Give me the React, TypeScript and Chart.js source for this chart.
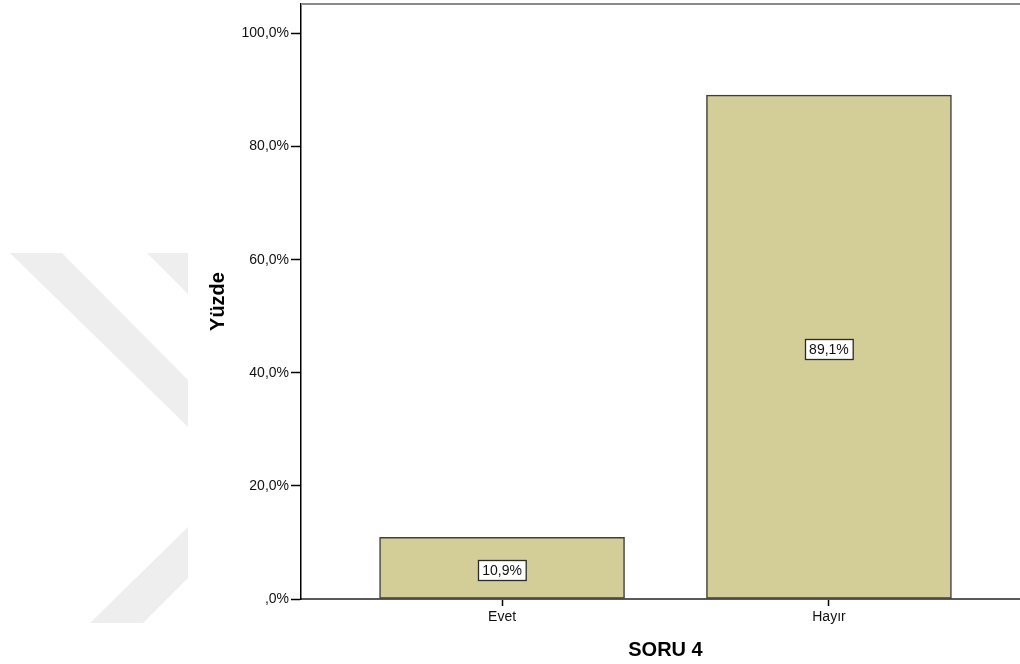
import React, { useEffect, useRef } from "react";
import { Chart, registerables } from "chart.js";

Chart.register(...registerables);

const categories: string[] = ["Evet", "Hayır"];
const percentages: number[] = [10.9, 89.1];
const yTicks: number[] = [0, 20, 40, 60, 80, 100];
const xTitle = "SORU 4";
const yTitle = "Yüzde";

const FONT = "'Liberation Sans', Arial, sans-serif";

const fmtPct = (v: number): string => {
  const s = v.toFixed(1).replace(".", ",");
  return (s.startsWith("0,") ? s.slice(1) : s) + "%";
};

const watermarkPlugin = {
  id: "watermark",
  beforeDraw(chart: any) {
    const ctx = chart.ctx as CanvasRenderingContext2D;
    ctx.save();
    ctx.fillStyle = "#eeeeee";
    const polys: number[][][] = [
      [[10, 253], [62, 253], [188, 380], [188, 427]],
      [[147, 253], [188, 253], [188, 294]],
      [[90, 623], [143, 623], [188, 578], [188, 527]],
    ];
    for (const p of polys) {
      ctx.beginPath();
      ctx.moveTo(p[0][0], p[0][1]);
      for (let i = 1; i < p.length; i++) ctx.lineTo(p[i][0], p[i][1]);
      ctx.closePath();
      ctx.fill();
    }
    ctx.restore();
  },
};

const frameAndLabelsPlugin = {
  id: "frameAndLabels",
  afterDatasetsDraw(chart: any) {
    const ctx = chart.ctx as CanvasRenderingContext2D;
    const area = chart.chartArea;
    ctx.save();
    // top frame line
    ctx.strokeStyle = "#8a8a8a";
    ctx.lineWidth = 2;
    ctx.beginPath();
    ctx.moveTo(area.left, area.top);
    ctx.lineTo(area.right, area.top);
    ctx.stroke();

    // value labels
    const meta = chart.getDatasetMeta(0);
    ctx.font = `14px ${FONT}`;
    ctx.textAlign = "center";
    ctx.textBaseline = "middle";
    meta.data.forEach((el: any, i: number) => {
      const text = fmtPct(percentages[i]);
      const w = ctx.measureText(text).width + 8;
      const h = 20;
      const cx = el.x;
      const cy = (el.y + el.base) / 2 + 2;
      const x0 = Math.round(cx - w / 2) + 0.5;
      const y0 = Math.round(cy - h / 2) + 0.5;
      ctx.fillStyle = "#ffffff";
      ctx.fillRect(x0, y0, w, h);
      ctx.strokeStyle = "#2a2a2a";
      ctx.lineWidth = 1.3;
      ctx.strokeRect(x0, y0, w, h);
      ctx.fillStyle = "#111111";
      ctx.fillText(text, cx, cy + 1);
    });
    ctx.restore();
  },
};

export default function App() {
  const canvasRef = useRef<HTMLCanvasElement | null>(null);

  useEffect(() => {
    if (!canvasRef.current) return;
    const chart = new Chart(canvasRef.current, {
      type: "bar",
      data: {
        datasets: [
          {
            data: categories.map((c, i) => ({ x: i, y: percentages[i] })),
            backgroundColor: "#D3CE97",
            borderColor: "#3e3e3e",
            borderWidth: 1.5,
            borderSkipped: false,
            barThickness: 245,
          } as any,
        ],
      },
      options: {
        animation: false,
        responsive: false,
        devicePixelRatio: 1,
        layout: { padding: { top: 4, left: 0, right: 0, bottom: 0 } },
        plugins: {
          legend: { display: false },
          tooltip: { enabled: false },
        },
        scales: {
          x: {
            type: "linear",
            min: -0.615,
            max: 1.615,
            offset: false,
            afterBuildTicks: (scale: any) => {
              scale.ticks = categories.map((_, i) => ({ value: i }));
            },
            afterFit: (scale: any) => {
              scale.height = 65;
              scale.paddingLeft = 0;
              scale.paddingRight = 0;
            },
            ticks: {
              autoSkip: false,
              maxRotation: 0,
              padding: 3,
              color: "#111",
              font: { family: FONT, size: 14 },
              callback: (v: any) => categories[Number(v)] ?? "",
            },
            grid: {
              offset: false,
              drawOnChartArea: false,
              drawTicks: true,
              tickLength: 7,
              tickColor: "#000",
              tickWidth: 1.5,
            },
            border: { display: true, color: "#5a5a5a", width: 2 },
            title: {
              display: true,
              text: xTitle,
              color: "#000",
              font: { family: FONT, size: 20, weight: "bold" },
              padding: { top: 0, bottom: 2 },
            },
          },
          y: {
            min: 0,
            max: 105.2,
            afterBuildTicks: (scale: any) => {
              scale.ticks = yTicks.map((v) => ({ value: v }));
            },
            afterFit: (scale: any) => {
              scale.width = 301;
              scale.paddingTop = 0;
              scale.paddingBottom = 0;
            },
            ticks: {
              padding: 2,
              color: "#111",
              font: { family: FONT, size: 14 },
              callback: (v: any) => fmtPct(Number(v)),
            },
            grid: {
              drawOnChartArea: false,
              drawTicks: true,
              tickLength: 10,
              tickColor: "#000",
              tickWidth: 1.5,
            },
            border: { display: true, color: "#000", width: 1.5 },
            title: {
              display: true,
              text: yTitle,
              color: "#000",
              font: { family: FONT, size: 20, weight: "bold" },
              padding: { top: 206, bottom: 0 },
            },
          },
        },
      } as any,
      plugins: [watermarkPlugin, frameAndLabelsPlugin],
    });
    return () => chart.destroy();
  }, []);

  return (
    <div
      style={{
        position: "fixed",
        left: 0,
        top: 0,
        width: 1020,
        height: 664,
        overflow: "hidden",
        background: "#fff",
      }}
    >
      <canvas ref={canvasRef} width={1030} height={664} style={{ display: "block" }} />
    </div>
  );
}
